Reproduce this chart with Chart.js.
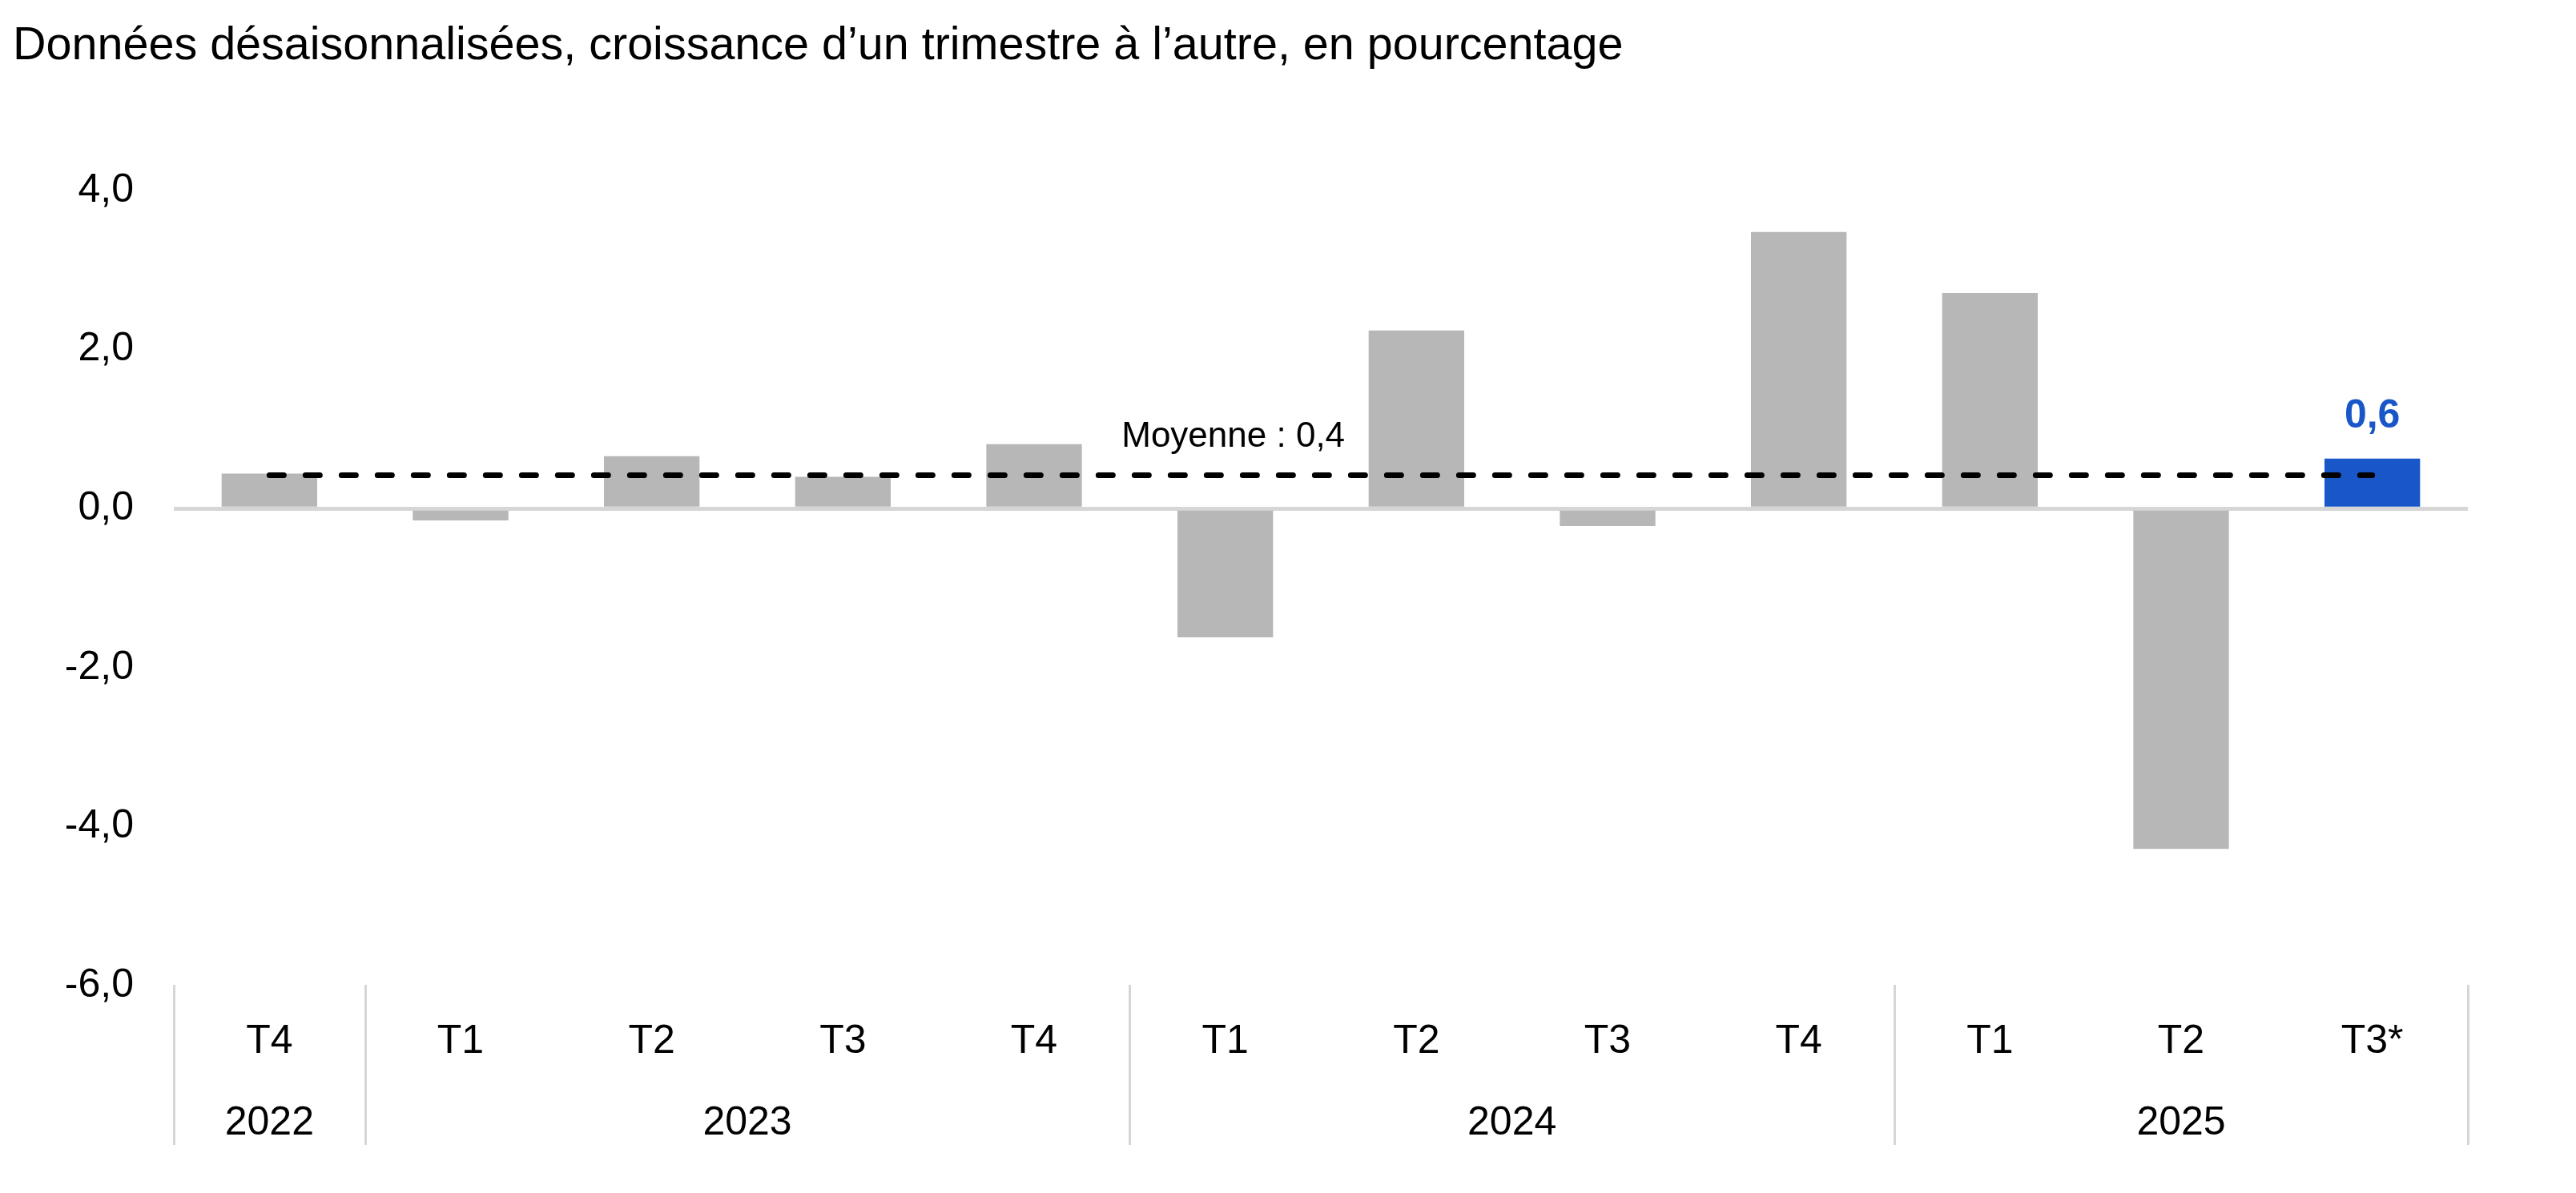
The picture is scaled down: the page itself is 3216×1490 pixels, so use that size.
<!DOCTYPE html>
<html lang="fr">
<head>
<meta charset="utf-8">
<title>Croissance trimestrielle</title>
<script src="https://cdn.jsdelivr.net/npm/chart.js@4/dist/chart.umd.min.js"></script>
<style>
  html, body { margin: 0; padding: 0; background: #ffffff; }
  #wrap { width: 3216px; height: 1490px; position: relative; }
  canvas { display: block; }
</style>
</head>
<body>
<div id="wrap"><canvas id="c" width="3216" height="1490"></canvas></div>
<script>
// ---- Data ----
const titleText = 'Données désaisonnalisées, croissance d’un trimestre à l’autre, en pourcentage';
const categories = ['T4', 'T1', 'T2', 'T3', 'T4', 'T1', 'T2', 'T3', 'T4', 'T1', 'T2', 'T3*'];
const values = [0.44, -0.15, 0.66, 0.40, 0.81, -1.62, 2.24, -0.22, 3.48, 2.71, -4.28, 0.63];
const yearLabels = ['2022', '2023', '2024', '2025'];
const yearSpans = [1, 4, 4, 3];
const meanValue = 0.42;
const meanText = 'Moyenne : 0,4';
const meanSeries = [0.42, 0.42, 0.42, 0.42, 0.42, 0.42, 0.42, 0.42, 0.42, 0.42, 0.42, 0.42];
const highlightIndex = 11;
const yMin = -6, yMax = 4, yStep = 2;

// ---- Styles ----
const FONT = '"Liberation Sans", Arial, Helvetica, sans-serif';
const GRAY = '#b7b7b7';
const BLUE = '#1957c8';
const RULE = '#d6d6d6';
const fmt = v => v.toFixed(1).replace('.', ',').replace('-0,0', '0,0');

const barColors = values.map((v, i) => i === highlightIndex ? BLUE : GRAY);

const decorPlugin = {
  id: 'decor',
  afterDraw(chart) {
    const ctx = chart.ctx;
    const x = chart.scales.x;
    const y = chart.scales.y;
    ctx.save();
    // Title
    ctx.fillStyle = '#000';
    ctx.font = '57.5px ' + FONT;
    ctx.textAlign = 'left';
    ctx.textBaseline = 'alphabetic';
    ctx.fillText(titleText, 16, 74);

    // Mean label
    ctx.font = '44px ' + FONT;
    ctx.textAlign = 'center';
    ctx.fillText(meanText, x.getPixelForValue(5) + 10, y.getPixelForValue(meanValue) - 35);

    // Highlight value label
    const hv = values[highlightIndex];
    ctx.font = 'bold 50px ' + FONT;
    ctx.fillStyle = BLUE;
    ctx.fillText(fmt(hv), x.getPixelForValue(highlightIndex), y.getPixelForValue(hv) - 39);

    // Category axis: quarter labels, year labels, separators
    const bottom = chart.chartArea.bottom;
    const rowQ = bottom + 84;
    const rowY = bottom + 186;
    ctx.fillStyle = '#000';
    ctx.font = '50px ' + FONT;
    categories.forEach((c, i) => {
      ctx.fillText(c, x.getPixelForValue(i), rowQ);
    });
    const edge = i => {
      if (i <= 0) return x.left;
      if (i >= categories.length) return x.right;
      return (x.getPixelForValue(i - 1) + x.getPixelForValue(i)) / 2;
    };
    let start = 0;
    const seps = [0];
    yearLabels.forEach((yl, k) => {
      const end = start + yearSpans[k];
      const cx = (edge(start) + edge(end)) / 2;
      ctx.fillText(yl, cx, rowY);
      seps.push(end);
      start = end;
    });
    ctx.strokeStyle = RULE;
    ctx.lineWidth = 3;
    seps.forEach(s => {
      const px = Math.round(edge(s)) + 0.5;
      ctx.beginPath();
      ctx.moveTo(px, bottom - 1);
      ctx.lineTo(px, bottom + 199);
      ctx.stroke();
    });
    ctx.restore();
  }
};

new Chart(document.getElementById('c'), {
  data: {
    labels: categories,
    datasets: [
      {
        type: 'line',
        data: meanSeries,
        borderColor: '#000',
        borderWidth: 7,
        borderDash: [18, 27],
        borderCapStyle: 'round',
        pointRadius: 0,
        tension: 0,
        fill: false,
        order: 0
      },
      {
        type: 'bar',
        data: values,
        backgroundColor: barColors,
        borderWidth: 0,
        barPercentage: 0.5,
        categoryPercentage: 1.0,
        order: 1
      }
    ]
  },
  plugins: [decorPlugin],
  options: {
    responsive: false,
    devicePixelRatio: 1,
    animation: false,
    layout: { padding: { top: 238, left: 16, right: 135, bottom: 259 } },
    plugins: { legend: { display: false }, tooltip: { enabled: false }, title: { display: false } },
    scales: {
      x: {
        type: 'category',
        offset: true,
        grid: { display: false, drawTicks: false },
        border: { display: false },
        ticks: { display: false }
      },
      y: {
        min: yMin,
        max: yMax,
        z: 1,
        border: { display: false },
        grid: {
          drawTicks: false,
          color: c => (c.tick && c.tick.value === 0) ? RULE : 'rgba(0,0,0,0)',
          lineWidth: c => (c.tick && c.tick.value === 0) ? 5 : 0
        },
        ticks: {
          stepSize: yStep,
          padding: 50,
          color: '#000',
          font: { family: FONT, size: 50 },
          callback: v => fmt(v)
        },
        afterFit: s => { s.width = 201; }
      }
    }
  }
});
</script>
</body>
</html>
